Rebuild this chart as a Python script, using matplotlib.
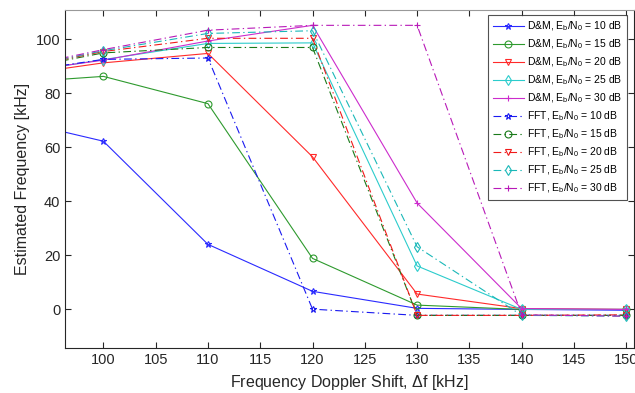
import numpy as np
import matplotlib
matplotlib.use('Agg')
import matplotlib.pyplot as plt

plt.rcParams['font.family'] = ['Liberation Sans', 'DejaVu Sans']
plt.rcParams['mathtext.fontset'] = 'custom'
plt.rcParams['mathtext.rm'] = 'Liberation Sans'
plt.rcParams['mathtext.it'] = 'Liberation Sans'

shift_khz = [90, 100, 110, 120, 130, 140, 150]
snr_db = [10, 15, 20, 25, 30]

dm_10 = [71.4, 62.3, 24.1, 6.7, 0.4, 0.0, -0.3]
dm_15 = [83.6, 86.3, 76.2, 18.9, 1.6, 0.0, 0.0]
dm_20 = [85.8, 91.3, 94.8, 56.5, 5.7, 0.3, 0.0]
dm_25 = [86.5, 92.5, 98.5, 98.7, 16.1, 0.0, 0.0]
dm_30 = [87.0, 92.3, 99.4, 105.2, 39.4, 0.3, 0.0]

fft_10 = [86.8, 92.6, 93.1, 0.1, -2.2, -2.2, -2.2]
fft_15 = [87.5, 95.0, 97.0, 97.0, -2.2, -2.2, -2.2]
fft_20 = [87.8, 95.5, 100.4, 100.4, -2.2, -2.2, -2.0]
fft_25 = [88.0, 95.8, 102.2, 103.2, 23.2, -2.2, -2.5]
fft_30 = [88.2, 96.2, 103.4, 105.2, 105.2, -2.0, -2.5]

dm_series = [dm_10, dm_15, dm_20, dm_25, dm_30]
fft_series = [fft_10, fft_15, fft_20, fft_25, fft_30]

dm_colors = ['#2a2aff', '#2e9a2e', '#ff2a2a', '#2ccccc', '#cc2ccc']
fft_colors = ['#1a1af0', '#1a7a1a', '#f01a1a', '#1ab8b8', '#b81ab8']
markers = ['*', 'o', 'v', 'd', '+']

fig = plt.figure(figsize=(6.35, 3.93), dpi=100)
ax = fig.add_axes([0.1028, 0.1137, 0.895, 0.861])

for vals, snr, c, m in zip(dm_series, snr_db, dm_colors, markers):
    ax.plot(shift_khz, vals, '-', color=c, marker=m, markersize=5,
            markerfacecolor='none', markeredgewidth=0.8, linewidth=0.8,
            label='D&M, $E_b/N_0$ = %d dB' % snr)

for vals, snr, c, m in zip(fft_series, snr_db, fft_colors, markers):
    ax.plot(shift_khz, vals, color=c, marker=m, markersize=5,
            markerfacecolor='none', markeredgewidth=0.8, linewidth=0.8,
            dashes=(7, 3, 1.2, 3),
            label='FFT, $E_b/N_0$ = %d dB' % snr)

ax.set_xlim(96.36, 150.7)
ax.set_ylim(-14.4, 110.9)
ax.set_xticks(np.arange(100, 151, 5))
ax.set_yticks(np.arange(0, 101, 20))
ax.tick_params(direction='in', top=True, right=True, labelsize=10.5,
               length=4, width=0.8, colors='#262626')
for s in ax.spines.values():
    s.set_color('#262626')
    s.set_linewidth(0.8)
ax.spines['top'].set_color('#999999')

ax.set_xlabel('Frequency Doppler Shift, $\\Delta$f [kHz]', fontsize=11.5, color='#262626')
ax.set_ylabel('Estimated Frequency [kHz]', fontsize=11.5, color='#262626')

leg = ax.legend(loc='upper right', bbox_to_anchor=(0.989, 0.985), fontsize=7.5,
                frameon=True, fancybox=False, edgecolor='#262626',
                labelspacing=0.42, handlelength=3.0, handletextpad=0.35,
                borderpad=0.45, borderaxespad=0)
leg.get_frame().set_linewidth(0.8)

fig.savefig('out.png', dpi=100)
